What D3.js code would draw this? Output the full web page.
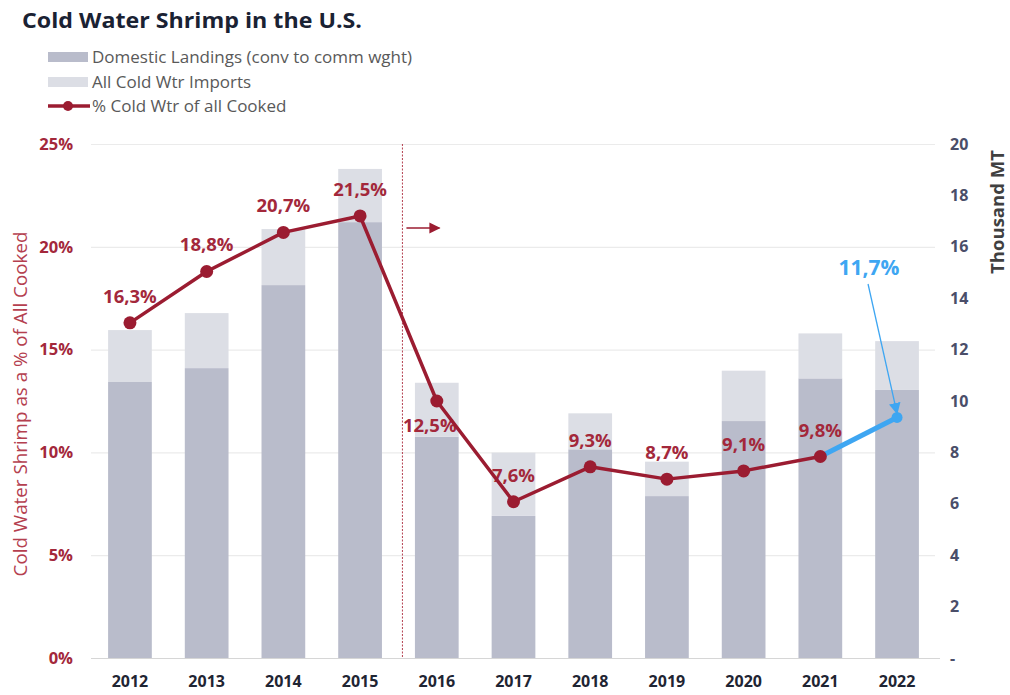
<!DOCTYPE html>
<html>
<head>
<meta charset="utf-8">
<script src="https://cdn.jsdelivr.net/npm/d3@7"></script>
<style>
  html, body { margin: 0; padding: 0; background: #fff; }
  svg { display: block; }
  text { font-family: "Open Sans", "Noto Sans", sans-serif; }
</style>
</head>
<body>
<svg id="chart" width="1010" height="695"></svg>
<script>
// Cold water shrimp, U.S. market
const years = ["2012","2013","2014","2015","2016","2017","2018","2019","2020","2021","2022"];
// Thousand MT
const domestic = [10.74, 11.28, 14.51, 16.96, 8.61, 5.53, 8.12, 6.30, 9.22, 10.88, 10.43];
const imports  = [2.02, 2.14, 2.18, 2.07, 2.10, 2.46, 1.40, 1.34, 1.96, 1.75, 1.90];
// % cold water of all cooked shrimp
const pctCooked = [16.3, 18.8, 20.7, 21.5, 12.5, 7.6, 9.3, 8.7, 9.1, 9.8, 11.7];

const leftTicks = [0, 5, 10, 15, 20, 25];
const rightTicks = [0, 2, 4, 6, 8, 10, 12, 14, 16, 18, 20];

const seriesNames = ["Domestic Landings (conv to comm wght)", "All Cold Wtr Imports", "% Cold Wtr of all Cooked"];

const C = {
  domestic: "#b9bccb",
  imports: "#dcdee5",
  line: "#9b1c31",
  label: "#a3283b",
  axisTitle: "#b4404f",
  rightTick: "#4a4e69",
  year: "#1f2533",
  grid: "#ebebeb",
  blue: "#3ea6f2"
};

const svg = d3.select("#chart");

const x = d3.scaleBand().domain(years).range([91.6, 935.4]).paddingInner(0.43).paddingOuter(0.215);
const yL = d3.scaleLinear().domain([0, 25]).range([658, 144]);
const yR = d3.scaleLinear().domain([0, 20]).range([658, 144]);
const cx = d => x(d) + x.bandwidth() / 2;

// Title
svg.append("text")
  .attr("x", 22).attr("y", 28)
  .attr("font-size", 22).attr("font-weight", 700)
  .attr("fill", "#1a2233")
  .attr("textLength", 340).attr("lengthAdjust", "spacingAndGlyphs")
  .text("Cold Water Shrimp in the U.S.");

// Legend
const legend = svg.append("g");
const legendRows = [57, 82, 106];
legend.append("rect").attr("x", 48).attr("y", legendRows[0] - 5).attr("width", 40).attr("height", 10).attr("fill", C.domestic);
legend.append("rect").attr("x", 48).attr("y", legendRows[1] - 5).attr("width", 40).attr("height", 10).attr("fill", C.imports);
legend.append("line").attr("x1", 48).attr("x2", 90).attr("y1", legendRows[2]).attr("y2", legendRows[2])
  .attr("stroke", C.line).attr("stroke-width", 3.5);
legend.append("circle").attr("cx", 68).attr("cy", legendRows[2]).attr("r", 5).attr("fill", C.line);
seriesNames.forEach((n, i) => {
  legend.append("text")
    .attr("x", 92).attr("y", legendRows[i]).attr("dy", "0.35em")
    .attr("font-size", 17).attr("fill", "#595959")
    .text(n);
});

// Gridlines
svg.append("g").selectAll("line").data(leftTicks.filter(t => t > 0)).join("line")
  .attr("x1", 91).attr("x2", 935)
  .attr("y1", d => yL(d) + 0.5).attr("y2", d => yL(d) + 0.5)
  .attr("stroke", C.grid).attr("stroke-width", 1.2);

// Stacked bars: domestic + imports
const bars = svg.append("g");
bars.selectAll("rect.dom").data(years).join("rect")
  .attr("class", "dom")
  .attr("x", d => x(d)).attr("width", x.bandwidth())
  .attr("y", (d, i) => yR(domestic[i]))
  .attr("height", (d, i) => yR(0) - yR(domestic[i]))
  .attr("fill", C.domestic);
bars.selectAll("rect.imp").data(years).join("rect")
  .attr("class", "imp")
  .attr("x", d => x(d)).attr("width", x.bandwidth())
  .attr("y", (d, i) => yR(domestic[i] + imports[i]))
  .attr("height", (d, i) => yR(domestic[i]) - yR(domestic[i] + imports[i]))
  .attr("fill", C.imports);

// Baseline
svg.append("line")
  .attr("x1", 91).attr("x2", 940).attr("y1", yL(0) + 0.5).attr("y2", yL(0) + 0.5)
  .attr("stroke", "#d6d6d6").attr("stroke-width", 1.2);

// Left axis
const leftAxis = svg.append("g").attr("transform", "translate(73,0)")
  .call(d3.axisLeft(yL).tickValues(leftTicks).tickSize(0).tickPadding(0).tickFormat(d => d + "%"));
leftAxis.select(".domain").remove();
leftAxis.selectAll("text")
  .attr("font-family", "'Open Sans', sans-serif")
  .attr("font-size", 16.5).attr("font-weight", 700).attr("fill", C.label);

// Right axis
const rightAxis = svg.append("g").attr("transform", "translate(950,0)")
  .call(d3.axisRight(yR).tickValues(rightTicks).tickSize(0).tickPadding(0).tickFormat(d => d === 0 ? "-" : d));
rightAxis.select(".domain").remove();
rightAxis.selectAll("text")
  .attr("font-family", "'Open Sans', sans-serif")
  .attr("font-size", 16).attr("font-weight", 700).attr("fill", C.rightTick);

// X axis
const xAxis = svg.append("g").attr("transform", "translate(0,676)")
  .call(d3.axisBottom(x).tickSize(0).tickPadding(0));
xAxis.select(".domain").remove();
xAxis.selectAll("text")
  .attr("font-family", "'Open Sans', sans-serif")
  .attr("font-size", 16).attr("font-weight", 700).attr("fill", C.year)
  .attr("dy", "0.71em");

// Axis titles
svg.append("text")
  .attr("transform", "translate(27,404) rotate(-90)")
  .attr("text-anchor", "middle")
  .attr("font-size", 18.8).attr("fill", C.axisTitle)
  .text("Cold Water Shrimp as a % of All Cooked");
svg.append("text")
  .attr("transform", "translate(1004,212) rotate(-90)")
  .attr("text-anchor", "middle")
  .attr("font-size", 18.5).attr("font-weight", 700).attr("fill", "#404040")
  .text("Thousand MT");

// Markers
const defs = svg.append("defs");
defs.append("marker").attr("id", "arrRed").attr("viewBox", "0 0 10 10")
  .attr("refX", 9).attr("refY", 5).attr("markerWidth", 8).attr("markerHeight", 7)
  .attr("markerUnits", "strokeWidth").attr("orient", "auto")
  .append("path").attr("d", "M0,0 L10,5 L0,10 Z").attr("fill", C.line);
defs.append("marker").attr("id", "arrBlue").attr("viewBox", "0 0 10 10")
  .attr("refX", 9).attr("refY", 5).attr("markerWidth", 9).attr("markerHeight", 9)
  .attr("markerUnits", "strokeWidth").attr("orient", "auto")
  .append("path").attr("d", "M0,0 L10,5 L0,10 Z").attr("fill", C.blue);

// Break between 2015 and 2016
const breakX = x("2016") - (x.step() - x.bandwidth()) / 2 + 4;
svg.append("line")
  .attr("x1", breakX).attr("x2", breakX).attr("y1", yL(25)).attr("y2", yL(0))
  .attr("stroke", C.axisTitle).attr("stroke-width", 1).attr("stroke-dasharray", "2,1.5");
svg.append("line")
  .attr("x1", breakX + 4).attr("x2", breakX + 37).attr("y1", 228).attr("y2", 228)
  .attr("stroke", C.line).attr("stroke-width", 1.6).attr("marker-end", "url(#arrRed)");

// Value labels (drawn beneath the line)
const last = years.length - 1;
const below = new Set(["2016"]);
svg.append("g").selectAll("text").data(years.slice(0, last)).join("text")
  .attr("x", d => cx(d) + (below.has(d) ? -7 : 0))
  .attr("y", (d, i) => yL(pctCooked[i]) + (below.has(d) ? 31 : -20))
  .attr("text-anchor", "middle")
  .attr("font-size", 18.5).attr("font-weight", 700).attr("fill", C.label)
  .text((d, i) => pctCooked[i].toFixed(1).replace(".", ",") + "%");

// Percentage line
const pts = years.map((d, i) => [cx(d), yL(pctCooked[i])]);
svg.append("path")
  .attr("d", d3.line()(pts.slice(0, last)))
  .attr("fill", "none").attr("stroke", C.line).attr("stroke-width", 3.5)
  .attr("stroke-linejoin", "round");
svg.append("path")
  .attr("d", d3.line()(pts.slice(last - 1)))
  .attr("fill", "none").attr("stroke", C.blue).attr("stroke-width", 5);
svg.append("g").selectAll("circle").data(pts.slice(0, last)).join("circle")
  .attr("cx", d => d[0]).attr("cy", d => d[1]).attr("r", 6.5).attr("fill", C.line);
svg.append("circle").attr("cx", pts[last][0]).attr("cy", pts[last][1]).attr("r", 5.5).attr("fill", C.blue);

// 2022 callout
const calloutX = cx(years[last]) - 28;
svg.append("text")
  .attr("x", calloutX).attr("y", 275)
  .attr("text-anchor", "middle")
  .attr("font-size", 21).attr("font-weight", 700).attr("fill", C.blue)
  .text(pctCooked[last].toFixed(1).replace(".", ",") + "%");
svg.append("line")
  .attr("x1", calloutX - 1).attr("y1", 284)
  .attr("x2", pts[last][0]).attr("y2", pts[last][1] - 4)
  .attr("stroke", C.blue).attr("stroke-width", 1.3).attr("marker-end", "url(#arrBlue)");
</script>
</body>
</html>
